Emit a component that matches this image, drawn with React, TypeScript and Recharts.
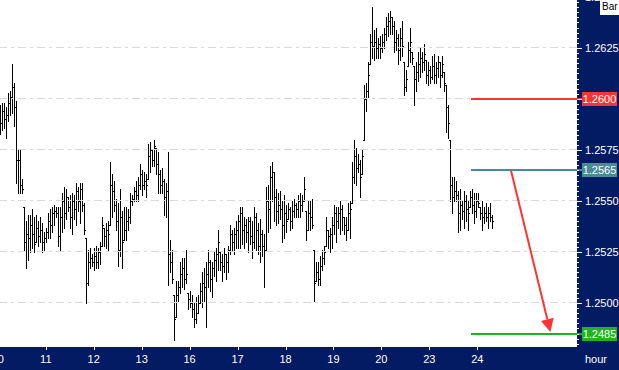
import React from 'react';
import { ComposedChart, Bar, XAxis, YAxis, ReferenceLine } from 'recharts';

// Hourly OHLC bars, one array per field, grouped by day (10, 11, 12, 13, 16, 17, 18, 19, 20, 23, 24)
const HIGH = [
  1.2597, 1.2598, 1.2598, 1.2596, 1.2603, 1.2604, 1.2617, 1.2608, 1.2599, 1.2575, 1.2575, 1.2561, 1.2547, 1.2540, 1.2543, 1.2543, 1.2546, 1.2542, 1.2543, 1.2540, 1.2542, 1.2539, 1.2535,
  1.2537, 1.2544, 1.2546, 1.2547, 1.2548, 1.2547, 1.2547, 1.2547, 1.2554, 1.2557, 1.2556, 1.2552, 1.2553, 1.2554, 1.2553, 1.2559, 1.2557, 1.2559, 1.2559, 1.2549, 1.2532, 1.2526, 1.2527, 1.2524,
  1.2527, 1.2528, 1.2527, 1.2530, 1.2542, 1.2537, 1.2539, 1.2540, 1.2569, 1.2563, 1.2560, 1.2551, 1.2549, 1.2556, 1.2545, 1.2547, 1.2547, 1.2546, 1.2554, 1.2553, 1.2557, 1.2560, 1.2562, 1.2568,
  1.2565, 1.2564, 1.2563, 1.2578, 1.2579, 1.2575, 1.2580, 1.2576, 1.2574, 1.2565, 1.2566, 1.2561, 1.2559, 1.2574, 1.2531, 1.2526, 1.2504, 1.2511, 1.2511, 1.2520, 1.2522, 1.2522, 1.2526, 1.2505,
  1.2506, 1.2504, 1.2500, 1.2503, 1.2504, 1.2510, 1.2515, 1.2517, 1.2520, 1.2526, 1.2521, 1.2520, 1.2525, 1.2527, 1.2536, 1.2525, 1.2524, 1.2527, 1.2524, 1.2528, 1.2538, 1.2536, 1.2537, 1.2540,
  1.2543, 1.2547, 1.2547, 1.2542, 1.2541, 1.2542, 1.2542, 1.2540, 1.2547, 1.2544, 1.2539, 1.2541, 1.2536, 1.2534, 1.2557, 1.2558, 1.2567, 1.2569, 1.2564, 1.2556, 1.2554, 1.2555, 1.2550, 1.2553,
  1.2548, 1.2549, 1.2547, 1.2550, 1.2551, 1.2549, 1.2553, 1.2554, 1.2553, 1.2562, 1.2545, 1.2550, 1.2550, 1.2551, 1.2526, 1.2520, 1.2520, 1.2523, 1.2526, 1.2528, 1.2542, 1.2536, 1.2537, 1.2542,
  1.2548, 1.2547, 1.2547, 1.2550, 1.2548, 1.2542, 1.2542, 1.2549, 1.2550, 1.2569, 1.2580, 1.2576, 1.2573, 1.2570, 1.2575, 1.2607, 1.2608, 1.2618, 1.2632, 1.2645, 1.2634, 1.2635, 1.2630, 1.2631,
  1.2632, 1.2635, 1.2640, 1.2642, 1.2643, 1.2640, 1.2638, 1.2634, 1.2632, 1.2635, 1.2638, 1.2618, 1.2614, 1.2628, 1.2635, 1.2623, 1.2616, 1.2618, 1.2623, 1.2625, 1.2623, 1.2627, 1.2619, 1.2618,
  1.2616, 1.2621, 1.2622, 1.2618, 1.2621, 1.2618, 1.2621, 1.2613, 1.2607, 1.2597, 1.2580, 1.2562, 1.2562, 1.2560, 1.2555, 1.2556, 1.2550, 1.2555, 1.2553, 1.2550, 1.2555, 1.2556, 1.2554, 1.2554,
  1.2554, 1.2547, 1.2550, 1.2547, 1.2549, 1.2547, 1.2549, 1.2543,
];

const LOW = [
  1.2583, 1.2585, 1.2586, 1.2581, 1.2589, 1.2592, 1.2593, 1.2587, 1.2559, 1.2554, 1.2554, 1.2554, 1.2526, 1.2517, 1.2521, 1.2525, 1.2527, 1.2525, 1.2530, 1.2528, 1.2530, 1.2525, 1.2526,
  1.2530, 1.2532, 1.2532, 1.2535, 1.2538, 1.2542, 1.2528, 1.2526, 1.2535, 1.2537, 1.2541, 1.2545, 1.2537, 1.2534, 1.2541, 1.2538, 1.2545, 1.2539, 1.2545, 1.2534, 1.2500, 1.2509, 1.2517, 1.2518,
  1.2516, 1.2517, 1.2517, 1.2519, 1.2528, 1.2528, 1.2527, 1.2526, 1.2538, 1.2542, 1.2545, 1.2536, 1.2518, 1.2523, 1.2517, 1.2531, 1.2531, 1.2536, 1.2539, 1.2548, 1.2550, 1.2550, 1.2550, 1.2556,
  1.2553, 1.2556, 1.2552, 1.2561, 1.2564, 1.2567, 1.2567, 1.2563, 1.2554, 1.2554, 1.2554, 1.2543, 1.2542, 1.2509, 1.2515, 1.2510, 1.2482, 1.2493, 1.2501, 1.2505, 1.2508, 1.2507, 1.2510, 1.2497,
  1.2498, 1.2493, 1.2488, 1.2490, 1.2495, 1.2500, 1.2498, 1.2501, 1.2488, 1.2508, 1.2506, 1.2503, 1.2513, 1.2511, 1.2516, 1.2516, 1.2511, 1.2515, 1.2512, 1.2515, 1.2524, 1.2526, 1.2524, 1.2527,
  1.2527, 1.2527, 1.2529, 1.2527, 1.2530, 1.2525, 1.2529, 1.2522, 1.2527, 1.2526, 1.2524, 1.2520, 1.2523, 1.2508, 1.2526, 1.2535, 1.2537, 1.2550, 1.2540, 1.2538, 1.2539, 1.2541, 1.2530, 1.2532,
  1.2535, 1.2541, 1.2536, 1.2537, 1.2542, 1.2542, 1.2542, 1.2542, 1.2545, 1.2550, 1.2531, 1.2536, 1.2536, 1.2537, 1.2501, 1.2511, 1.2509, 1.2509, 1.2516, 1.2519, 1.2528, 1.2527, 1.2525, 1.2527,
  1.2534, 1.2530, 1.2537, 1.2534, 1.2536, 1.2534, 1.2531, 1.2536, 1.2532, 1.2549, 1.2559, 1.2558, 1.2564, 1.2552, 1.2563, 1.2580, 1.2594, 1.2601, 1.2617, 1.2620, 1.2619, 1.2620, 1.2620, 1.2620,
  1.2623, 1.2625, 1.2629, 1.2631, 1.2632, 1.2632, 1.2623, 1.2624, 1.2617, 1.2619, 1.2621, 1.2602, 1.2604, 1.2616, 1.2618, 1.2617, 1.2597, 1.2604, 1.2609, 1.2611, 1.2613, 1.2614, 1.2608, 1.2607,
  1.2608, 1.2610, 1.2608, 1.2608, 1.2611, 1.2606, 1.2611, 1.2604, 1.2584, 1.2581, 1.2550, 1.2544, 1.2550, 1.2550, 1.2535, 1.2536, 1.2541, 1.2537, 1.2540, 1.2536, 1.2547, 1.2544, 1.2539, 1.2542,
  1.2547, 1.2541, 1.2536, 1.2539, 1.2540, 1.2537, 1.2540, 1.2537,
];

const OPEN = [
  1.2590, 1.2588, 1.2594, 1.2590, 1.2592, 1.2598, 1.2601, 1.2606, 1.2596, 1.2570, 1.2570, 1.2558, 1.2547, 1.2530, 1.2534, 1.2532, 1.2538, 1.2534, 1.2530, 1.2537, 1.2533, 1.2536, 1.2530,
  1.2532, 1.2535, 1.2540, 1.2538, 1.2544, 1.2545, 1.2544, 1.2533, 1.2542, 1.2550, 1.2544, 1.2552, 1.2547, 1.2542, 1.2550, 1.2546, 1.2555, 1.2550, 1.2556, 1.2548, 1.2532, 1.2510, 1.2520, 1.2522,
  1.2520, 1.2523, 1.2520, 1.2525, 1.2528, 1.2537, 1.2533, 1.2536, 1.2538, 1.2558, 1.2555, 1.2548, 1.2540, 1.2526, 1.2542, 1.2531, 1.2536, 1.2540, 1.2542, 1.2550, 1.2551, 1.2555, 1.2553, 1.2558,
  1.2563, 1.2558, 1.2560, 1.2561, 1.2572, 1.2575, 1.2570, 1.2576, 1.2568, 1.2563, 1.2558, 1.2560, 1.2552, 1.2555, 1.2524, 1.2520, 1.2504, 1.2493, 1.2504, 1.2508, 1.2514, 1.2517, 1.2512, 1.2505,
  1.2502, 1.2500, 1.2497, 1.2492, 1.2495, 1.2500, 1.2506, 1.2510, 1.2508, 1.2514, 1.2520, 1.2512, 1.2517, 1.2521, 1.2524, 1.2525, 1.2520, 1.2518, 1.2524, 1.2520, 1.2526, 1.2534, 1.2530, 1.2534,
  1.2536, 1.2540, 1.2544, 1.2536, 1.2538, 1.2535, 1.2540, 1.2533, 1.2530, 1.2542, 1.2536, 1.2528, 1.2534, 1.2528, 1.2526, 1.2550, 1.2546, 1.2562, 1.2564, 1.2552, 1.2545, 1.2548, 1.2546, 1.2538,
  1.2544, 1.2541, 1.2546, 1.2540, 1.2545, 1.2548, 1.2546, 1.2550, 1.2548, 1.2550, 1.2545, 1.2536, 1.2544, 1.2542, 1.2526, 1.2511, 1.2515, 1.2512, 1.2518, 1.2522, 1.2528, 1.2536, 1.2533, 1.2534,
  1.2538, 1.2544, 1.2540, 1.2544, 1.2546, 1.2542, 1.2538, 1.2536, 1.2544, 1.2549, 1.2562, 1.2572, 1.2566, 1.2568, 1.2563, 1.2580, 1.2600, 1.2604, 1.2617, 1.2628, 1.2626, 1.2628, 1.2625, 1.2627,
  1.2625, 1.2628, 1.2632, 1.2636, 1.2638, 1.2640, 1.2636, 1.2628, 1.2630, 1.2624, 1.2630, 1.2618, 1.2606, 1.2616, 1.2624, 1.2623, 1.2616, 1.2610, 1.2613, 1.2617, 1.2620, 1.2618, 1.2619, 1.2612,
  1.2614, 1.2611, 1.2616, 1.2612, 1.2615, 1.2618, 1.2612, 1.2613, 1.2607, 1.2596, 1.2580, 1.2558, 1.2552, 1.2555, 1.2553, 1.2544, 1.2548, 1.2545, 1.2550, 1.2546, 1.2547, 1.2552, 1.2548, 1.2545,
  1.2550, 1.2547, 1.2544, 1.2542, 1.2544, 1.2542, 1.2544, 1.2542,
];

const CLOSE = [
  1.2588, 1.2594, 1.2590, 1.2592, 1.2598, 1.2601, 1.2606, 1.2596, 1.2570, 1.2570, 1.2558, 1.2556, 1.2530, 1.2534, 1.2532, 1.2538, 1.2534, 1.2529, 1.2537, 1.2533, 1.2536, 1.2530, 1.2532,
  1.2535, 1.2540, 1.2538, 1.2544, 1.2545, 1.2544, 1.2533, 1.2542, 1.2550, 1.2544, 1.2552, 1.2547, 1.2542, 1.2550, 1.2546, 1.2555, 1.2550, 1.2556, 1.2548, 1.2536, 1.2510, 1.2520, 1.2522, 1.2520,
  1.2523, 1.2520, 1.2525, 1.2528, 1.2538, 1.2533, 1.2536, 1.2534, 1.2558, 1.2555, 1.2548, 1.2540, 1.2526, 1.2542, 1.2530, 1.2536, 1.2540, 1.2542, 1.2550, 1.2551, 1.2555, 1.2553, 1.2558, 1.2563,
  1.2558, 1.2560, 1.2558, 1.2572, 1.2575, 1.2570, 1.2577, 1.2568, 1.2563, 1.2558, 1.2560, 1.2552, 1.2555, 1.2524, 1.2520, 1.2512, 1.2492, 1.2504, 1.2508, 1.2514, 1.2517, 1.2512, 1.2514, 1.2502,
  1.2500, 1.2497, 1.2492, 1.2495, 1.2500, 1.2506, 1.2510, 1.2508, 1.2514, 1.2520, 1.2512, 1.2517, 1.2521, 1.2524, 1.2530, 1.2520, 1.2518, 1.2524, 1.2520, 1.2526, 1.2534, 1.2530, 1.2534, 1.2536,
  1.2540, 1.2544, 1.2536, 1.2538, 1.2535, 1.2540, 1.2533, 1.2530, 1.2542, 1.2536, 1.2528, 1.2534, 1.2528, 1.2526, 1.2550, 1.2546, 1.2562, 1.2564, 1.2552, 1.2545, 1.2548, 1.2546, 1.2538, 1.2544,
  1.2540, 1.2546, 1.2540, 1.2545, 1.2548, 1.2546, 1.2550, 1.2548, 1.2550, 1.2556, 1.2536, 1.2544, 1.2542, 1.2538, 1.2510, 1.2515, 1.2512, 1.2518, 1.2522, 1.2525, 1.2536, 1.2533, 1.2534, 1.2538,
  1.2544, 1.2540, 1.2544, 1.2546, 1.2542, 1.2538, 1.2536, 1.2544, 1.2546, 1.2562, 1.2572, 1.2566, 1.2568, 1.2562, 1.2572, 1.2600, 1.2604, 1.2612, 1.2628, 1.2626, 1.2628, 1.2625, 1.2627, 1.2625,
  1.2628, 1.2632, 1.2636, 1.2638, 1.2640, 1.2636, 1.2628, 1.2630, 1.2624, 1.2630, 1.2626, 1.2606, 1.2610, 1.2624, 1.2628, 1.2620, 1.2610, 1.2613, 1.2617, 1.2620, 1.2618, 1.2622, 1.2612, 1.2614,
  1.2611, 1.2616, 1.2612, 1.2615, 1.2618, 1.2612, 1.2617, 1.2608, 1.2596, 1.2588, 1.2558, 1.2552, 1.2555, 1.2553, 1.2544, 1.2548, 1.2545, 1.2550, 1.2546, 1.2544, 1.2552, 1.2548, 1.2545, 1.2550,
  1.2549, 1.2544, 1.2542, 1.2544, 1.2542, 1.2544, 1.2542, 1.2540,
];

const DAY_LABELS = ['10', '11', '12', '13', '16', '17', '18', '19', '20', '23', '24'];
const DAY_TICKS = [-1.07, 22.9, 46.87, 70.84, 94.81, 118.78, 142.75, 166.72, 190.69, 214.66, 238.63];

const PRICE_LABELS = [1.25, 1.2525, 1.255, 1.2575, 1.26, 1.2625, 1.265];

const LEVEL_PRICES = [1.26, 1.2565, 1.2485];
const LEVEL_COLORS = ['#ff3333', '#478d95', '#22b322'];
const LEVEL_START = 235.5;

const ARROW_FROM = { x: 255.5, y: 1.2565 };
const ARROW_TO = { x: 275.2, y: 1.24858 };

const X_DOMAIN: [number, number] = [-10, 288.5];
const Y_DOMAIN: [number, number] = [1.247843, 1.265833];

const NAVY = '#021b62';
const FONT = '"Liberation Sans", Arial, sans-serif';

const DATA = HIGH.map((h, i) => ({
  x: i + 0.5,
  high: h,
  low: LOW[i],
  open: OPEN[i],
  close: CLOSE[i],
  range: [LOW[i], h],
}));

// minor ticks every 0.00025
const Y_TICKS: number[] = [];
for (let q = 4992; q <= 5063; q++) Y_TICKS.push(q / 4000);

const CHART_W = 639;
const CHART_H = 390;
const AXIS_X = 597; // right edge of plot in svg coords
const AXIS_Y = 367; // bottom edge of plot in svg coords

function OhlcShape(props: any) {
  const { x, y, width, height, index } = props;
  const d = DATA[index] ?? props.payload;
  if (!d || x == null || y == null) return null;
  const top = Math.min(y, y + height);
  const bot = Math.max(y, y + height);
  const span = d.high - d.low;
  const yOf = (v: number) => (span > 0 ? top + ((d.high - v) / span) * (bot - top) : top);
  const cx = Math.floor(x + width / 2);
  const t = Math.round(top);
  const b = Math.round(bot);
  return (
    <g fill="#000">
      <rect x={cx} y={t} width={1} height={Math.max(1, b - t + 1)} />
      <rect x={cx - 1} y={Math.round(yOf(d.open))} width={1} height={1} />
      <rect x={cx + 1} y={Math.round(yOf(d.close))} width={1} height={1} />
    </g>
  );
}

function XTick(props: any) {
  const { x, payload } = props;
  const idx = DAY_TICKS.indexOf(payload.value);
  const px = Math.round(x) + 0.5;
  return (
    <g>
      <line x1={px} x2={px} y1={AXIS_Y} y2={AXIS_Y + 3} stroke="#fff" strokeWidth={1} />
      <text x={x} y={AXIS_Y + 16} textAnchor="middle" fill="#fff" fontSize={11} fontFamily={FONT}>
        {idx >= 0 ? DAY_LABELS[idx] : ''}
      </text>
    </g>
  );
}

function YTick(props: any) {
  const { y, payload } = props;
  const v: number = payload.value;
  const q = Math.round(v * 4000);
  const major = q % 10 === 0;
  const coveredByLevel = LEVEL_PRICES.some((p) => Math.round(p * 4000) === q);
  const py = Math.round(y) + 0.5;
  return (
    <g>
      <line x1={AXIS_X} x2={AXIS_X + (major ? 5 : 2)} y1={py} y2={py} stroke="#fff" strokeWidth={1} />
      {major && !coveredByLevel && (
        <text x={AXIS_X + 8} y={y + 4} textAnchor="start" fill="#fff" fontSize={11} fontFamily={FONT}>
          {v.toFixed(4)}
        </text>
      )}
    </g>
  );
}

const levelShape = (color: string, price: number) => (props: any) => {
  const { x1, y1, x2 } = props;
  const y = Math.round(y1);
  return (
    <g>
      <rect x={x1} y={y - 1} width={x2 - x1 + 6} height={2} fill={color} />
      <rect x={x2 + 5} y={y - 7} width={35} height={14} fill={color} />
      <text x={x2 + 22.5} y={y + 4} textAnchor="middle" fill="#fff" fontSize={11} fontFamily={FONT}>
        {price.toFixed(4)}
      </text>
    </g>
  );
};

function arrowShape(props: any) {
  const { x1, y1, x2, y2 } = props;
  const dx = x2 - x1;
  const dy = y2 - y1;
  const len = Math.hypot(dx, dy) || 1;
  const ux = dx / len;
  const uy = dy / len;
  const hl = 13;
  const hw = 6.5;
  const bx = x2 - ux * hl;
  const by = y2 - uy * hl;
  return (
    <g>
      <line x1={x1} y1={y1} x2={bx} y2={by} stroke="#ff3333" strokeWidth={2} />
      <polygon
        points={`${x2},${y2} ${bx - uy * hw},${by + ux * hw} ${bx + uy * hw},${by - ux * hw}`}
        fill="#ff3333"
      />
    </g>
  );
}

export default function App() {
  return (
    <div
      style={{
        position: 'absolute',
        left: 0,
        top: 0,
        width: 619,
        height: 370,
        overflow: 'hidden',
        background: '#fff',
      }}
    >
      <div style={{ position: 'absolute', left: 577, top: 0, width: 42, height: 370, background: NAVY }} />
      <div style={{ position: 'absolute', left: 0, top: 347, width: 619, height: 23, background: NAVY }} />
      <div style={{ position: 'absolute', left: -20, top: -20 }}>
        <ComposedChart width={CHART_W} height={CHART_H} data={DATA} margin={{ top: 0, right: 0, bottom: 0, left: 0 }}>
          <XAxis
            dataKey="x"
            type="number"
            domain={X_DOMAIN}
            allowDataOverflow
            ticks={DAY_TICKS}
            interval={0}
            tick={<XTick />}
            tickLine={false}
            axisLine={false}
            height={23}
          />
          <YAxis
            orientation="right"
            type="number"
            domain={Y_DOMAIN}
            allowDataOverflow
            ticks={Y_TICKS}
            interval={0}
            tick={<YTick />}
            tickLine={false}
            axisLine={false}
            width={42}
          />
          {PRICE_LABELS.map((p) => (
            <ReferenceLine
              key={'g' + p}
              y={p}
              stroke="#d9d9d9"
              strokeDasharray="8 4 3 4"
              strokeWidth={1}
              shapeRendering="crispEdges"
            />
          ))}
          <Bar dataKey="range" barSize={1} isAnimationActive={false} shape={OhlcShape} />
          {LEVEL_PRICES.map((p, i) => (
            <ReferenceLine
              key={'l' + p}
              segment={[
                { x: LEVEL_START, y: p },
                { x: X_DOMAIN[1], y: p },
              ]}
              shape={levelShape(LEVEL_COLORS[i], p)}
            />
          ))}
          <ReferenceLine segment={[ARROW_FROM, ARROW_TO]} shape={arrowShape} />
        </ComposedChart>
      </div>
      <div
        style={{
          position: 'absolute',
          left: 585,
          top: 352,
          width: 22,
          textAlign: 'center',
          color: '#fff',
          fontFamily: FONT,
          fontSize: 11,
          lineHeight: '14px',
        }}
      >
        hour
      </div>
      <div
        style={{
          position: 'absolute',
          left: 600,
          top: 0,
          width: 19,
          height: 15,
          background: '#fff',
          color: '#000',
          fontFamily: FONT,
          fontSize: 10,
          lineHeight: '14px',
          paddingLeft: 2,
          boxSizing: 'border-box',
          overflow: 'hidden',
        }}
      >
        Bar
      </div>
    </div>
  );
}
